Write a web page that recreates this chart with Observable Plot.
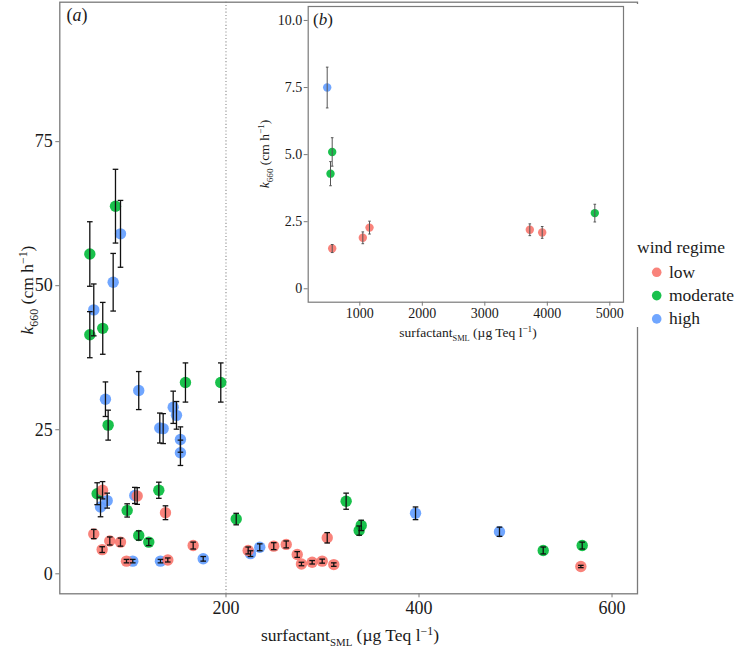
<!DOCTYPE html>
<html><head><meta charset="utf-8">
<script src="https://cdn.jsdelivr.net/npm/d3@7"></script>
<script src="https://cdn.jsdelivr.net/npm/@observablehq/plot@0.6"></script>
<style>
body{margin:0;background:#fff;}
#wrap{position:relative;width:739px;height:652px;font-family:"Liberation Serif",serif;}
#wrap svg{position:absolute;overflow:visible;}
</style></head><body><div id="wrap"></div>
<script>
// ---------- data ----------
const regimes = ["low", "moderate", "high"];
const regimeColors = ["#F8766D", "#00BA38", "#619CFF"];

// panel (a): surfactant (µg Teq l-1), k660 (cm h-1), error (±)
const lowX   = [72.1, 108, 137.3, 63, 79.6, 90.7, 71.7, 96.9, 139.7, 166, 223, 249.5, 262.4, 273.8, 278.2, 289.3, 299.7, 304.9, 311.7, 567.7];
const lowY   = [14.5, 13.5, 10.6, 6.9, 5.7, 5.5, 4.2, 2.2, 2.4, 4.9, 4.05, 4.8, 5.1, 3.35, 1.7, 2.0, 2.2, 6.25, 1.6, 1.27];
const lowErr = [1.5, 1.45, 1.2, 0.8, 0.7, 0.7, 0.5, 0.3, 0.35, 0.6, 0.6, 0.6, 0.6, 0.5, 0.3, 0.3, 0.35, 0.9, 0.3, 0.2];

const modX   = [85.5, 58.9, 58.9, 72.3, 77.9, 158, 194.6, 66.5, 130.4, 97.6, 109.6, 120, 210.6, 324.5, 340.1, 338, 528.7, 569.1];
const modY   = [63.8, 55.5, 41.5, 42.6, 25.8, 33.2, 33.2, 13.9, 14.5, 11.0, 6.65, 5.5, 9.5, 12.6, 8.4, 7.5, 4.05, 4.9];
const modErr = [6.4, 5.6, 4.0, 4.5, 2.6, 3.4, 3.4, 1.9, 1.4, 1.15, 0.8, 0.6, 1.0, 1.4, 0.9, 0.8, 0.6, 0.6];

const highX   = [90.7, 83.1, 63, 75.1, 109.6, 131.4, 134.9, 145.3, 148.7, 152.8, 152.8, 76.9, 70, 105.5, 103.4, 132.1, 176.4, 225.4, 235, 396.4, 483.4];
const highY   = [59.0, 50.6, 45.8, 30.3, 31.8, 25.3, 25.2, 28.9, 27.5, 23.3, 21.0, 12.7, 11.6, 13.6, 2.2, 2.2, 2.6, 3.5, 4.6, 10.5, 7.3];
const highErr = [5.8, 5.0, 4.5, 3.0, 3.3, 2.6, 2.6, 2.8, 2.4, 2.2, 2.2, 1.3, 1.7, 1.4, 0.3, 0.3, 0.4, 0.5, 0.6, 1.1, 0.8];

// panel (b)
const insetWind = ["high", "moderate", "moderate", "low", "low", "low", "low", "low", "moderate"];
const insetX    = [478, 558, 531, 558, 1048, 1155, 3720, 3918, 4760];
const insetY    = [7.5, 5.1, 4.29, 1.5, 1.9, 2.28, 2.2, 2.1, 2.82];
const insetErr  = [0.76, 0.53, 0.45, 0.15, 0.22, 0.24, 0.22, 0.22, 0.33];

const mainXTicks = [200, 400, 600];
const mainYTicks = [0, 25, 50, 75];
const insetXTicks = [1000, 2000, 3000, 4000, 5000];
const insetYTicks = [0, 2.5, 5, 7.5, 10];
const threshold = [200];

// ---------- build ----------
const rows = (X, Y, E, w) => X.map((x, i) => ({x, y: Y[i], e: E[i], wind: w}));
const mainData = [
  ...rows(highX, highY, highErr, "high"),
  ...rows(modX, modY, modErr, "moderate"),
  ...rows(lowX, lowY, lowErr, "low")
];
const insetData = insetX.map((x, i) => ({x, y: insetY[i], e: insetErr[i], wind: insetWind[i]}));

const cap = hw => ({draw(ctx) { ctx.moveTo(-hw, 0); ctx.lineTo(hw, 0); }});
const FONT = "'Liberation Serif', 'Times New Roman', serif";
const GRAY = "#7a7a7a";

const wrap = document.getElementById("wrap");

const main = Plot.plot({
  width: 739, height: 652,
  marginTop: 1.7, marginRight: 102, marginBottom: 58.7, marginLeft: 59.3,
  style: {fontFamily: FONT, background: "transparent", overflow: "visible"},
  x: {domain: [27.8, 626.4]},
  y: {domain: [-3.47, 99.2]},
  color: {domain: regimes, range: regimeColors},
  marks: [
    Plot.ruleX(threshold, {stroke: "#8a8a8a", strokeWidth: 1.1, strokeDasharray: "1.1,2.2"}),
    Plot.dot(mainData, {x: "x", y: "y", r: 5.7, fill: "wind", fillOpacity: 0.9}),
    Plot.link(mainData, {x1: "x", x2: "x", y1: d => d.y - d.e, y2: d => d.y + d.e, stroke: "#111", strokeWidth: 1.3}),
    Plot.dot(mainData, {x: "x", y: d => d.y + d.e, symbol: cap(2.8), fill: "none", stroke: "#111", strokeWidth: 1.3}),
    Plot.dot(mainData, {x: "x", y: d => d.y - d.e, symbol: cap(2.8), fill: "none", stroke: "#111", strokeWidth: 1.3}),
    Plot.frame({stroke: GRAY, strokeWidth: 1.3}),
    Plot.axisX(mainXTicks, {tickSize: 4, tickPadding: 3, fontSize: 18, color: "#1a1a1a", stroke: GRAY, label: null}),
    Plot.axisY(mainYTicks, {tickSize: 4, tickPadding: 3, fontSize: 18, color: "#1a1a1a", stroke: GRAY, label: null})
  ]
});
wrap.appendChild(main);
main.style.left = "0px"; main.style.top = "0px";

const ms = d3.select(main);
// white backing of the inset panel
ms.append("rect").attr("x", 240).attr("y", 4).attr("width", 405).attr("height", 323).attr("fill", "#fff");

function axisTitle(sel, x, y, size, rotate, parts) {
  const t = sel.append("text")
    .attr("transform", `translate(${x},${y})` + (rotate ? " rotate(-90)" : ""))
    .attr("text-anchor", "middle").attr("font-family", FONT).attr("font-size", size).attr("fill", "#1a1a1a");
  parts(t, size);
  return t;
}
const kTitle = (t, s) => {
  t.append("tspan").attr("font-style", "italic").text("k");
  t.append("tspan").attr("dy", s * 0.28).attr("font-size", s * 0.68).text("660");
  t.append("tspan").attr("dy", -s * 0.28).text(" (cm h");
  t.append("tspan").attr("dy", -s * 0.36).attr("font-size", s * 0.68).text("−1");
  t.append("tspan").attr("dy", s * 0.36).text(")");
};
const sTitle = (t, s) => {
  t.append("tspan").text("surfactant");
  t.append("tspan").attr("dy", s * 0.28).attr("font-size", s * 0.62).text("SML");
  t.append("tspan").attr("dy", -s * 0.28).text(" (µg Teq l");
  t.append("tspan").attr("dy", -s * 0.36).attr("font-size", s * 0.68).text("−1");
  t.append("tspan").attr("dy", s * 0.36).text(")");
};
axisTitle(ms, 350, 641, 17.5, false, sTitle);
axisTitle(ms, 33, 290, 17.5, true, kTitle);

const pa = ms.append("text").attr("x", 66.5).attr("y", 21).attr("text-anchor", "start")
  .attr("font-family", FONT).attr("font-size", 18).attr("fill", "#1a1a1a");
pa.append("tspan").text("(");
pa.append("tspan").attr("font-style", "italic").text("a");
pa.append("tspan").text(")");

// legend
const lg = ms.append("g").attr("font-family", FONT).attr("fill", "#1a1a1a").attr("text-anchor", "start");
lg.append("text").attr("x", 637).attr("y", 253).attr("font-size", 17.5).text("wind regime");
regimes.forEach((r, i) => {
  const cy = 272.3 + 23.3 * i;
  lg.append("circle").attr("cx", 656.7).attr("cy", cy).attr("r", 4.8).attr("fill", regimeColors[i]).attr("fill-opacity", 0.9);
  lg.append("text").attr("x", 669).attr("y", cy + 5.5).attr("font-size", 17.5).text(r);
});

// ---------- inset ----------
const inset = Plot.plot({
  width: 405, height: 345,
  marginTop: 2, marginRight: 22, marginBottom: 47.3, marginLeft: 67.7,
  style: {fontFamily: FONT, background: "transparent", overflow: "visible"},
  x: {domain: [174, 5219]},
  y: {domain: [-0.5, 10.52]},
  color: {domain: regimes, range: regimeColors},
  marks: [
    Plot.dot(insetData, {x: "x", y: "y", r: 4.2, fill: "wind", fillOpacity: 0.9}),
    Plot.link(insetData, {x1: "x", x2: "x", y1: d => d.y - d.e, y2: d => d.y + d.e, stroke: "#555", strokeWidth: 1}),
    Plot.dot(insetData, {x: "x", y: d => d.y + d.e, symbol: cap(1.3), fill: "none", stroke: "#555", strokeWidth: 1}),
    Plot.dot(insetData, {x: "x", y: d => d.y - d.e, symbol: cap(1.3), fill: "none", stroke: "#555", strokeWidth: 1}),
    Plot.frame({stroke: GRAY, strokeWidth: 1.2}),
    Plot.axisX(insetXTicks, {tickSize: 4, tickPadding: 2, fontSize: 14, color: "#1a1a1a", stroke: GRAY, label: null,
      tickFormat: d => String(d)}),
    Plot.axisY(insetYTicks, {tickSize: 4, tickPadding: 2, fontSize: 14, color: "#1a1a1a", stroke: GRAY, label: null,
      tickFormat: d => d === 0 ? "0" : d.toFixed(1)})
  ]
});
wrap.appendChild(inset);
inset.style.left = "240px"; inset.style.top = "4px";
const is = d3.select(inset);
axisTitle(is, 228, 333, 13.5, false, sTitle);
axisTitle(is, 29, 150, 13.5, true, kTitle);
const pb = is.append("text").attr("x", 73).attr("y", 21).attr("text-anchor", "start")
  .attr("font-family", FONT).attr("font-size", 17).attr("fill", "#1a1a1a");
pb.append("tspan").text("(");
pb.append("tspan").attr("font-style", "italic").text("b");
pb.append("tspan").text(")");
</script>
</body></html>
